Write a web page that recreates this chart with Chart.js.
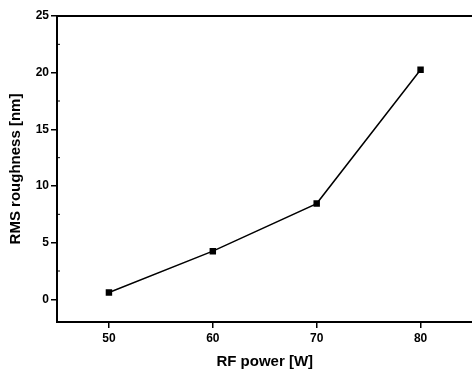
<!DOCTYPE html>
<html>
<head>
<meta charset="utf-8">
<script src="https://cdn.jsdelivr.net/npm/chart.js@4"></script>
<style>
  html, body { margin: 0; padding: 0; background: #fff; overflow: hidden; }
  #wrap { width: 478px; height: 371px; }
</style>
</head>
<body>
<div id="wrap"><canvas id="c"></canvas></div>
<script>
// valores
const rfPower = [50, 60, 70, 80];
const rmsRoughness = [0.6, 4.25, 8.45, 20.25];
const xTicks = [50, 60, 70, 80];
const yTicks = [0, 5, 10, 15, 20, 25];

// marco superior + ticks menores del eje y
const framePlugin = {
    id: "frame",
    afterDraw(chart) {
        const { ctx, chartArea, scales } = chart;
        ctx.save();
        ctx.strokeStyle = "#000";
        ctx.lineWidth = 2;
        ctx.beginPath();
        ctx.moveTo(chartArea.left, chartArea.top);
        ctx.lineTo(chartArea.right, chartArea.top);
        ctx.stroke();
        ctx.lineWidth = 1;
        for (let v = 2.5; v < 25; v += 5) {
            const y = scales.y.getPixelForValue(v);
            ctx.beginPath();
            ctx.moveTo(chartArea.left, y);
            ctx.lineTo(chartArea.left + 3, y);
            ctx.stroke();
        }
        ctx.restore();
    },
};

new Chart(document.getElementById("c"), {
    type: "line",
    data: {
        datasets: [{
            data: rfPower.map((x, i) => ({ x, y: rmsRoughness[i] })),
            borderColor: "#000",
            backgroundColor: "#000",
            borderWidth: 1.5,
            pointStyle: "rect",
            pointRadius: 3.5,
            tension: 0,
        }],
    },
    options: {
        responsive: true,
        maintainAspectRatio: false,
        animation: false,
        layout: { padding: { top: 16, right: 0, left: 0, bottom: 0 } },
        plugins: { legend: { display: false }, tooltip: { enabled: false } },
        scales: {
            x: {
                type: "linear",
                min: 45,
                max: 85,
                afterBuildTicks: (s) => { s.ticks = xTicks.map((v) => ({ value: v })); },
                afterFit: (s) => { s.height = 49; },
                border: { color: "#000", width: 2 },
                grid: { drawOnChartArea: false, drawTicks: true, tickLength: 6, color: "#000", lineWidth: 1.5 },
                ticks: { color: "#000", font: { family: "Arial, Liberation Sans", size: 12, weight: "bold" }, padding: 3 },
                title: {
                    display: true,
                    text: "RF power [W]",
                    color: "#000",
                    font: { family: "Arial, Liberation Sans", size: 15, weight: "bold" },
                    padding: { top: 6, bottom: 0 },
                },
            },
            y: {
                min: -2,
                max: 25,
                afterBuildTicks: (s) => { s.ticks = yTicks.map((v) => ({ value: v })); },
                afterFit: (s) => { s.width = 57; },
                border: { color: "#000", width: 2 },
                grid: { drawOnChartArea: false, drawTicks: true, tickLength: 6, color: "#000", lineWidth: 1.5 },
                ticks: { color: "#000", font: { family: "Arial, Liberation Sans", size: 12, weight: "bold" }, padding: 2 },
                title: {
                    display: true,
                    text: "RMS roughness [nm]",
                    color: "#000",
                    font: { family: "Arial, Liberation Sans", size: 15, weight: "bold" },
                    padding: { top: 7, bottom: 0 },
                },
            },
        },
    },
    plugins: [framePlugin],
});
</script>
</body>
</html>
